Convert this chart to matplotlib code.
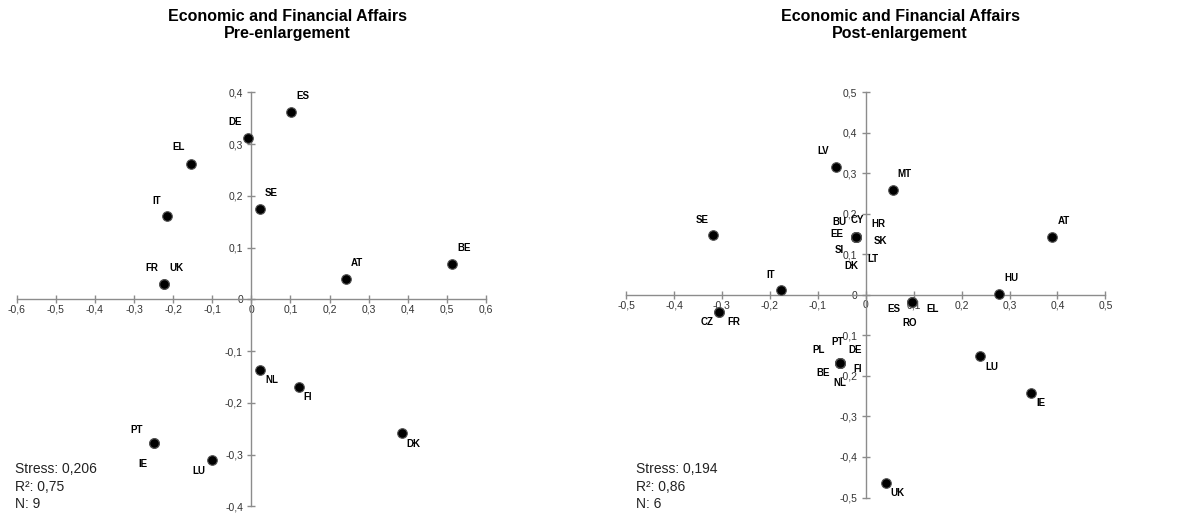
"""MDS maps for Economic and Financial Affairs, pre and post enlargement."""

import matplotlib

matplotlib.use('Agg')
import matplotlib.pyplot as plt
from matplotlib.ticker import FuncFormatter, MultipleLocator

plt.rcParams['font.family'] = ['Liberation Sans', 'DejaVu Sans']

# Pre-enlargement coordinates
pre_labels = ['ES', 'DE', 'EL', 'IT', 'SE', 'FR', 'UK', 'AT', 'BE',
              'NL', 'FI', 'DK', 'PT', 'IE', 'LU']
pre_x = [0.102, -0.009, -0.155, -0.215, 0.022, -0.223, -0.223, 0.243, 0.513,
         0.021, 0.121, 0.384, -0.249, -0.249, -0.101]
pre_y = [0.361, 0.311, 0.261, 0.161, 0.174, 0.030, 0.030, 0.039, 0.068,
         -0.136, -0.169, -0.258, -0.278, -0.278, -0.311]
pre_stats = ['Stress: 0,206', 'R²: 0,75', 'N: 9']

# Post-enlargement coordinates
post_labels = ['LV', 'MT', 'SE', 'AT', 'IT', 'HU',
               'BU', 'CY', 'HR', 'EE', 'SK', 'SI', 'LT', 'DK',
               'ES', 'EL', 'RO', 'CZ', 'FR',
               'PT', 'PL', 'DE', 'BE', 'NL', 'FI',
               'LU', 'IE', 'UK']
post_x = [-0.063, 0.056, -0.319, 0.388, -0.176, 0.279,
          -0.020, -0.020, -0.020, -0.020, -0.020, -0.020, -0.020, -0.020,
          0.096, 0.096, 0.096, -0.306, -0.306,
          -0.054, -0.054, -0.054, -0.054, -0.054, -0.054,
          0.239, 0.344, 0.042]
post_y = [0.315, 0.258, 0.148, 0.144, 0.012, 0.003,
          0.142, 0.142, 0.142, 0.142, 0.142, 0.142, 0.142, 0.142,
          -0.017, -0.017, -0.017, -0.042, -0.042,
          -0.169, -0.169, -0.169, -0.169, -0.169, -0.169,
          -0.151, -0.241, -0.463]
post_stats = ['Stress: 0,194', 'R²: 0,86', 'N: 6']

# label offsets in pixels (dx right, dy down), style only
pre_offsets = {
    'ES': (12, -16), 'DE': (-13, -16), 'EL': (-12, -17), 'IT': (-11, -15),
    'SE': (11, -16), 'FR': (-12, -16), 'UK': (12, -16), 'AT': (11, -16),
    'BE': (12, -16), 'NL': (12, 10), 'FI': (9, 10), 'DK': (12, 11),
    'PT': (-17, -13), 'IE': (-11, 21), 'LU': (-13, 11),
}
post_offsets = {
    'LV': (-12, -16), 'MT': (12, -16), 'SE': (-11, -15), 'AT': (12, -16),
    'IT': (-11, -15), 'HU': (12, -16),
    'BU': (-17, -15), 'CY': (1, -17), 'HR': (22, -13), 'EE': (-19, -3),
    'SK': (24, 4), 'SI': (-17, 13), 'LT': (17, 22), 'DK': (-5, 29),
    'ES': (-18, 7), 'EL': (21, 7), 'RO': (-2, 21), 'CZ': (-12, 10),
    'FR': (15, 10),
    'PT': (-2, -21), 'PL': (-21, -13), 'DE': (15, -13), 'BE': (-17, 10),
    'NL': (0, 20), 'FI': (18, 6),
    'LU': (12, 11), 'IE': (10, 10), 'UK': (12, 10),
}

AXIS_GREY = '#8c8c8c'


def comma_fmt(v, pos):
    if abs(v) < 1e-9:
        return '0'
    return ('%.1f' % v).replace('.', ',')


def draw_map(ax, xs, ys, labels, offsets, lim):
    ax.set_xlim(-lim[0], lim[0])
    ax.set_ylim(-lim[1], lim[1])
    for side in ['top', 'right']:
        ax.spines[side].set_visible(False)
    for side in ['left', 'bottom']:
        ax.spines[side].set_position('zero')
        ax.spines[side].set_color(AXIS_GREY)
        ax.spines[side].set_linewidth(1.0)
    ax.patch.set_alpha(0)
    ax.xaxis.set_major_locator(MultipleLocator(0.1))
    ax.yaxis.set_major_locator(MultipleLocator(0.1))
    ax.xaxis.set_major_formatter(FuncFormatter(comma_fmt))
    ax.yaxis.set_major_formatter(FuncFormatter(comma_fmt))
    ax.tick_params(direction='inout', length=6, width=1.0, color=AXIS_GREY,
                   labelsize=7.5, labelcolor='#333333')
    ax.tick_params(axis='x', pad=1)
    ax.tick_params(axis='y', pad=3)

    ax.scatter(xs, ys, s=48, c='black', edgecolors='#555555', linewidths=0.8,
               zorder=3, clip_on=False)
    for x, y, lab in zip(xs, ys, labels):
        dx, dy = offsets[lab]
        ax.annotate(lab, (x, y), xytext=(dx, -dy), textcoords='offset pixels',
                    ha='center', va='center', fontsize=7, fontweight='bold',
                    zorder=4)


fig = plt.figure(figsize=(11.85, 5.13), dpi=100)
ax1 = fig.add_axes([0.0141, 0.0131, 0.396, 0.807])
ax2 = fig.add_axes([0.5283, 0.0302, 0.4045, 0.790])

draw_map(ax1, pre_x, pre_y, pre_labels, pre_offsets, (0.6, 0.4))
draw_map(ax2, post_x, post_y, post_labels, post_offsets, (0.5, 0.5))

# titles
titles = [(287, 'Economic and Financial Affairs\nPre-enlargement'),
          (900, 'Economic and Financial Affairs\nPost-enlargement')]
for xc, title in titles:
    fig.text(xc / 1185, 1 - 25 / 513, title, ha='center', va='center',
             fontsize=11.5, fontweight='bold', linespacing=1.1)

# stress / fit statistics
for x0, stats in [(15, pre_stats), (636, post_stats)]:
    for i, line in enumerate(stats):
        fig.text(x0 / 1185, 1 - (469 + 17.7 * i) / 513, line,
                 ha='left', va='center', fontsize=10, color='#222222')

plt.savefig('out.png', dpi=100)
plt.close()
print("Saved out.png")
